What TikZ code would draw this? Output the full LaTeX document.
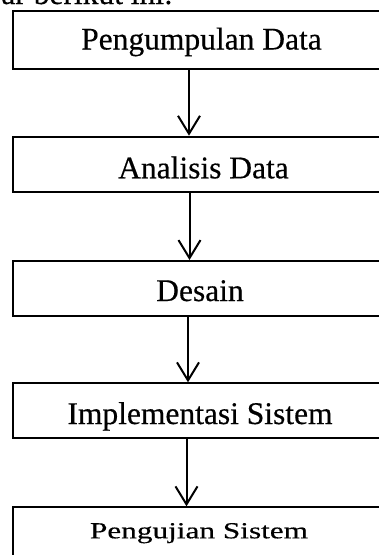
\documentclass[tikz,border=0pt]{standalone}
\usepackage{fontspec}
\setmainfont{Liberation Serif}
\newfontfamily\dfont{Liberation Serif}[FakeBold=0.4]
\usetikzlibrary{arrows.meta}
\begin{document}
\begin{tikzpicture}[x=1pt,y=-1pt,
  stepbox/.style={draw,line width=2pt,minimum width=377pt,inner sep=0pt},
  txt/.style={anchor=base,inner sep=0pt,font=\dfont\fontsize{31.5}{36}\selectfont},
  small/.style={anchor=base,inner sep=0pt,font=\dfont\fontsize{23}{28}\selectfont},
  flow/.style={line width=2pt,-{Straight Barb[length=18pt,width=22pt,line width=2pt]}}]
\useasboundingbox (0,0) rectangle (379,555);
\clip (0,0) rectangle (379,555);
% partial caption line at top
\node[txt,anchor=base east] (cap) at (173,4) {mbar berikut ini:};
% boxes
\node[stepbox,minimum height=58.3pt] (b1) at (201.5,39.9) {};
\node[stepbox,minimum height=55pt] (b2) at (201.5,164.2) {};
\node[stepbox,minimum height=55pt] (b3) at (201.5,288.5) {};
\node[stepbox,minimum height=55pt] (b4) at (201.5,410.8) {};
\node[stepbox,minimum height=55pt] (b5) at (201.5,534.8) {};
% texts
\node[txt] (t1) at (201.5,49.5) {Pengumpulan Data};
\node[txt] (t2) at (203.5,178.3) {Analisis Data};
\node[txt] (t3) at (200,301) {Desain};
\node[txt] (t4) at (200,424) {Implementasi Sistem};
\node[small] (t5) at (199,538.3) {\scalebox{1.36}[1]{Pengujian Sistem}};
% arrow columns
\coordinate (x1) at (189,0);
\coordinate (x2) at (189.5,0);
\coordinate (x3) at (188,0);
\coordinate (x4) at (186.5,0);
\draw[flow] (b1.south -| x1) -- (b2.north -| x1);
\draw[flow] (b2.south -| x2) -- (b3.north -| x2);
\draw[flow] (b3.south -| x3) -- (b4.north -| x3);
\draw[flow] (b4.south -| x4) -- (b5.north -| x4);
\end{tikzpicture}
\end{document}
